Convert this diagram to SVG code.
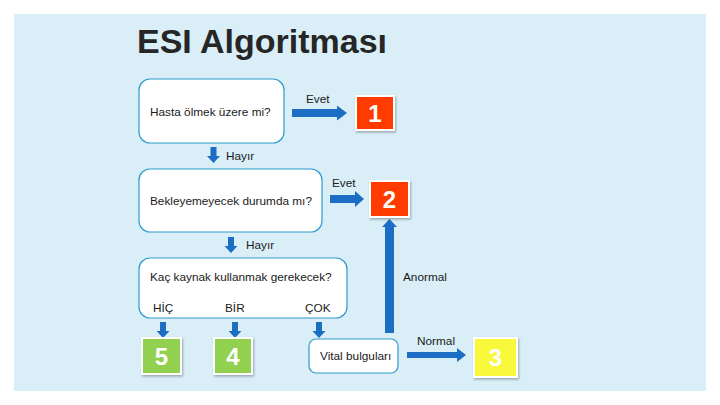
<svg xmlns="http://www.w3.org/2000/svg" width="720" height="405" viewBox="0 0 720 405">
<defs>
<style>
.q{fill:#ffffff;stroke:#2f9acb;stroke-width:1.2}
.t{font-family:"Liberation Sans",Arial,sans-serif;font-size:11.8px;fill:#1a1a1a}
.n{font-family:"Liberation Sans",Arial,sans-serif;font-size:24px;font-weight:bold;fill:#ffffff;text-anchor:middle}
.b{stroke:#ffffff;stroke-width:2;filter:url(#sh)}
.a{fill:#1b6ec3}
</style>
<filter id="sh" x="-20%" y="-20%" width="150%" height="150%">
<feDropShadow dx="1" dy="1.5" stdDeviation="1.2" flood-color="#000000" flood-opacity="0.3"/>
</filter>
</defs>
<rect x="0" y="0" width="720" height="405" fill="#ffffff"/>
<rect x="14" y="14" width="692" height="377" fill="#d9eef7"/>
<text x="137" y="53" font-family="'Liberation Sans',Arial,sans-serif" font-size="34" font-weight="bold" fill="#262626">ESI Algoritması</text>

<g id="connectors">
<path class="a" d="M292,109 H337 V105.5 L347,113 L337,120.5 V117 H292 Z"/>
<path class="a" d="M330,195 H355 V191 L364,199 L355,207 V203 H330 Z"/>
<path class="a" d="M210.5,147 H216.5 V156 H220 L213.5,163 L207,156 H210.5 Z"/>
<path class="a" d="M228,237 H234 V246 H237.5 L231,253 L224.5,246 H228 Z"/>
<path class="a" d="M160,322 H166 V331 H169.5 L163,338 L156.5,331 H160 Z"/>
<path class="a" d="M232,322 H238 V331 H241.5 L235,338 L228.5,331 H232 Z"/>
<path class="a" d="M316,322 H322 V331 H325.5 L319,338 L312.5,331 H316 Z"/>
<path class="a" d="M385,333 V227 H382 L389.5,219 L397,227 H394 V333 Z"/>
<path class="a" d="M407,352 H457 V348 L466,355 L457,362 V358 H407 Z"/>
<text class="t" x="306" y="103">Evet</text>
<text class="t" x="332" y="187">Evet</text>
<text class="t" x="226" y="160">Hayır</text>
<text class="t" x="246" y="249">Hayır</text>
<text class="t" x="403" y="281">Anormal</text>
<text class="t" x="417" y="345">Normal</text>
</g>

<g id="q1">
<rect class="q" x="139" y="79" width="145" height="64" rx="11"/>
<text class="t" x="150" y="116">Hasta ölmek üzere mi?</text>
</g>
<g id="q2">
<rect class="q" x="139" y="169" width="183" height="63" rx="11"/>
<text class="t" x="150" y="205">Bekleyemeyecek durumda mı?</text>
</g>
<g id="q3">
<rect class="q" x="139" y="258" width="208" height="60" rx="11"/>
<text class="t" x="150" y="281">Kaç kaynak kullanmak gerekecek?</text>
<text class="t" x="153" y="312">HİÇ</text>
<text class="t" x="225" y="312">BİR</text>
<text class="t" x="305" y="312">ÇOK</text>
</g>
<g id="vital">
<rect class="q" x="309" y="339" width="89" height="34" rx="7"/>
<text class="t" x="320" y="360">Vital bulguları</text>
</g>
<g id="e1">
<rect class="b" x="356" y="96" width="38" height="34" fill="#ff3a00"/>
<text class="n" x="375" y="122">1</text>
</g>
<g id="e2">
<rect class="b" x="370" y="181" width="39" height="36" fill="#ff3a00"/>
<text class="n" x="389.5" y="208">2</text>
</g>
<g id="e3">
<rect class="b" x="474" y="338" width="43" height="39" fill="#f9f93a"/>
<text class="n" x="495.5" y="366">3</text>
</g>
<g id="e4">
<rect class="b" x="214" y="338" width="38" height="36" fill="#92d050"/>
<text class="n" x="233" y="365">4</text>
</g>
<g id="e5">
<rect class="b" x="142" y="338" width="39" height="36" fill="#92d050"/>
<text class="n" x="161.5" y="365">5</text>
</g>
</svg>
